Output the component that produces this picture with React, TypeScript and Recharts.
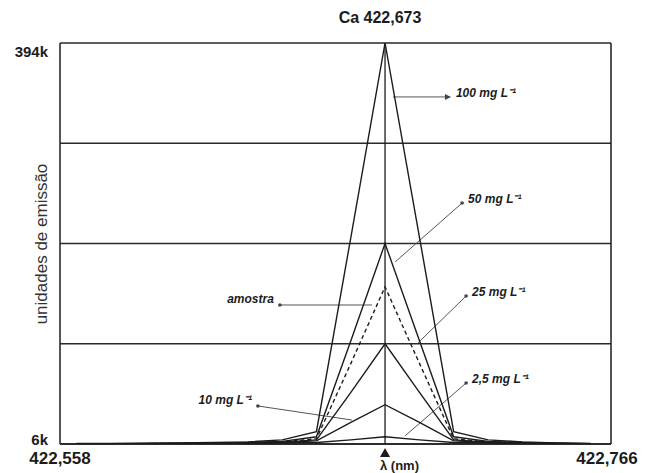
import React from 'react';
import {
  LineChart,
  Line,
  XAxis,
  YAxis,
  CartesianGrid,
  ReferenceLine,
  ReferenceDot,
} from 'recharts';

// wavelength (nm) of each sample point
const wavelengths = [
  422.5642, 422.5771, 422.5901, 422.603, 422.616, 422.6289, 422.6419, 422.6548,
  422.6678, 422.6807, 422.6937, 422.7066, 422.7196, 422.7325, 422.7455, 422.7584,
];

// emission units (thousands)
const std100 = [6.5, 6.5, 6.8, 7, 7.5, 8, 10, 18, 206, 394, 206, 18, 10, 8, 7, 6.5];
const std50 = [6.3, 6.3, 6.5, 6.7, 7, 7.5, 8.5, 13, 106, 200, 106, 13, 8.5, 7.5, 6.8, 6.3];
const sample = [6.2, 6.2, 6.4, 6.5, 6.8, 7.2, 8, 11, 84, 158, 84, 11, 8, 7, 6.5, 6.2];
const std25 = [6.2, 6.2, 6.3, 6.5, 6.7, 7, 7.8, 10, 56, 103, 56, 10, 7.8, 7, 6.5, 6.2];
const std10 = [6.1, 6.1, 6.2, 6.3, 6.5, 6.8, 7.5, 9, 27, 44, 27, 9, 7.5, 6.8, 6.4, 6.1];
const std2_5 = [6, 6, 6.1, 6.2, 6.3, 6.5, 7, 7.5, 10, 13, 10, 7.5, 7, 6.5, 6.2, 6];

const xTicks = [422.558, 422.766];
const yTicks = [6, 103, 200, 297, 394];
const peakWavelength = 422.6807;

// callouts: [label, from x, from y, to x, to y, side]
const callouts: [string, number, number, number, number, 'left' | 'right'][] = [
  ['100 mg L⁻¹', 422.6837, 341.8, 422.7052, 341.8, 'right'],
  ['50 mg L⁻¹', 422.6845, 182.1, 422.7098, 239.2, 'right'],
  ['amostra', 422.6758, 140.5, 422.641, 140.5, 'left'],
  ['25 mg L⁻¹', 422.6931, 103.7, 422.7113, 149.2, 'right'],
  ['10 mg L⁻¹', 422.6682, 29.2, 422.6327, 42.8, 'left'],
  ['2,5 mg L⁻¹', 422.6882, 13.7, 422.7113, 65, 'right'],
];

const data = wavelengths.map((w, i) => ({
  w,
  s100: std100[i],
  s50: std50[i],
  am: sample[i],
  s25: std25[i],
  s10: std10[i],
  s2: std2_5[i],
}));

const INK = '#1c1c1c';
const FONT = '"Liberation Sans", Arial, sans-serif';

const fmt = (v: number) => v.toFixed(3).replace('.', ',');

const XTick = (props: any) => {
  const { x, y, payload } = props;
  const dx = payload.value === xTicks[0] ? 0 : -4;
  return (
    <text x={x + dx} y={y + 12} textAnchor="middle" fontFamily={FONT} fontWeight={700} fontSize={17} fill={INK}>
      {fmt(payload.value)}
    </text>
  );
};

const YTick = (props: any) => {
  const { x, y, payload } = props;
  if (payload.value !== 6 && payload.value !== 394) return null;
  const dy = payload.value === 394 ? 14 : 1;
  return (
    <text x={x - 4} y={y + dy} textAnchor="end" fontFamily={FONT} fontWeight={700} fontSize={15} fill={INK}>
      {payload.value}k
    </text>
  );
};

const Triangle = (props: any) => (
  <path d={`M${props.cx - 5},${props.cy + 4} L${props.cx},${props.cy - 5} L${props.cx + 5},${props.cy + 4} Z`} fill={INK} />
);

const calloutEnd = (label: string, side: 'left' | 'right', arrow: boolean) => (props: any) => {
  const { cx, cy } = props;
  return (
    <g>
      {arrow ? (
        <path d={`M${cx - 5},${cy - 3} L${cx + 1},${cy} L${cx - 5},${cy + 3} Z`} fill="#444" />
      ) : (
        <circle cx={cx} cy={cy} r={1.8} fill="#444" />
      )}
      <text
        x={side === 'right' ? cx + 6 : cx - 6}
        y={cy}
        dy={side === 'right' ? 0 : -2}
        textAnchor={side === 'right' ? 'start' : 'end'}
        fontFamily={FONT}
        fontStyle="italic"
        fontWeight={600}
        fontSize={12}
        fill={INK}
      >
        {label}
      </text>
    </g>
  );
};

const series = [
  { key: 's100', dash: undefined },
  { key: 's50', dash: undefined },
  { key: 'am', dash: '4 3' },
  { key: 's25', dash: undefined },
  { key: 's10', dash: undefined },
  { key: 's2', dash: undefined },
];

export default function App() {
  return (
    <div style={{ position: 'absolute', left: 0, top: 0, width: 648, height: 473, background: '#fff' }}>
      <div
        style={{
          position: 'absolute', left: 320, top: 9, width: 120, textAlign: 'center',
          fontFamily: FONT, fontWeight: 700, fontSize: 16, color: INK,
        }}
      >
        Ca 422,673
      </div>
      <div
        style={{
          position: 'absolute', left: 42, top: 244, transform: 'translate(-50%, -50%) rotate(-90deg)',
          whiteSpace: 'nowrap', fontFamily: FONT, fontSize: 17, color: '#333',
        }}
      >
        unidades de emissão
      </div>
      <div
        style={{
          position: 'absolute', left: 380, top: 458, fontFamily: FONT, fontWeight: 700, fontSize: 13, color: INK,
        }}
      >
        λ (nm)
      </div>
      <LineChart width={648} height={473} data={data} margin={{ top: 43, right: 37, bottom: 0, left: 0 }}>
        <CartesianGrid vertical={false} stroke="#2a2a2a" strokeWidth={1.5} />
        <XAxis
          dataKey="w"
          type="number"
          domain={[422.558, 422.766]}
          ticks={xTicks}
          tick={<XTick />}
          tickLine={false}
          axisLine={{ stroke: INK, strokeWidth: 1.5 }}
          height={29}
          allowDataOverflow
        />
        <YAxis
          type="number"
          domain={[6, 394]}
          ticks={yTicks}
          tick={<YTick />}
          tickLine={false}
          axisLine={{ stroke: INK, strokeWidth: 1.5 }}
          width={60}
          allowDataOverflow
        />
        <ReferenceLine x={422.766} stroke={INK} strokeWidth={1.5} />
        <ReferenceLine x={peakWavelength} stroke={INK} strokeWidth={1.3} />
        {callouts.map(([label, x1, y1, x2, y2]) => (
          <ReferenceLine
            key={label}
            segment={[{ x: x1, y: y1 }, { x: x2, y: y2 }]}
            stroke="#555"
            strokeWidth={1}
          />
        ))}
        {series.map((s) => (
          <Line
            key={s.key}
            dataKey={s.key}
            type="linear"
            stroke={INK}
            strokeWidth={1.4}
            strokeDasharray={s.dash}
            dot={false}
            isAnimationActive={false}
          />
        ))}
        {callouts.map(([label, , , x2, y2, side], i) => (
          <ReferenceDot key={label + 'd'} x={x2} y={y2} r={2} shape={calloutEnd(label, side, i === 0)} />
        ))}
        <ReferenceDot x={peakWavelength} y={-2.7} r={5} ifOverflow="visible" shape={<Triangle />} />
      </LineChart>
    </div>
  );
}
